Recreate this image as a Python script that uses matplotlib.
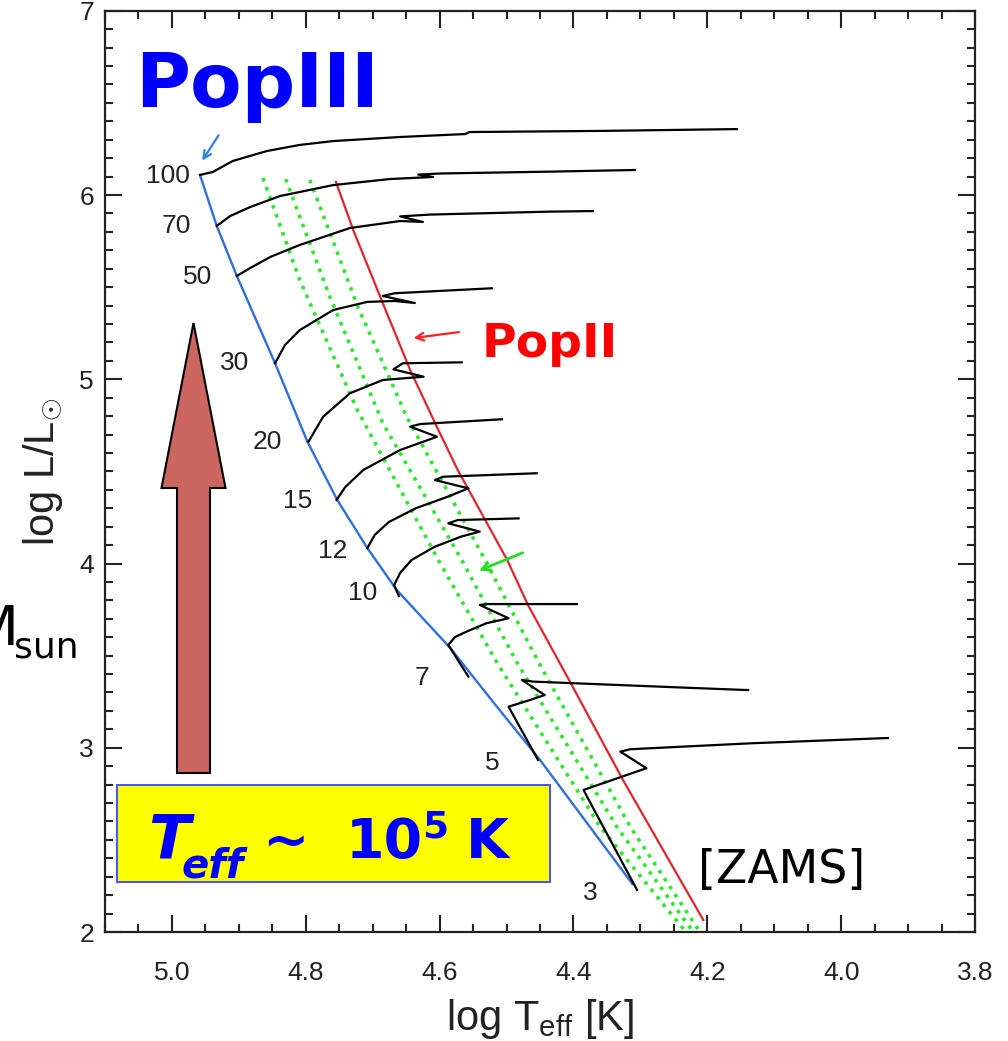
import matplotlib
matplotlib.use("Agg")
import matplotlib.pyplot as plt
from matplotlib.patches import Polygon, Rectangle
from matplotlib.ticker import MultipleLocator, FormatStrFormatter

plt.rcParams['font.family'] = ['Liberation Sans', 'DejaVu Sans']
plt.rcParams['mathtext.fontset'] = 'custom'
plt.rcParams['mathtext.rm'] = 'Liberation Sans'
plt.rcParams['mathtext.it'] = 'Liberation Sans:italic'
plt.rcParams['mathtext.bf'] = 'Liberation Sans:bold'

# PopIII evolutionary tracks, log Teff vs log L/Lsun, one pair per initial mass
logT_100 = [4.958, 4.939, 4.909, 4.858, 4.809, 4.759, 4.659, 4.562, 4.555, 4.360, 4.156]
logL_100 = [6.109, 6.125, 6.185, 6.239, 6.272, 6.293, 6.315, 6.331, 6.342, 6.348, 6.358]
logT_70 = [4.933, 4.913, 4.883, 4.838, 4.759, 4.674, 4.610, 4.632, 4.599, 4.435, 4.308]
logL_70 = [5.832, 5.886, 5.935, 5.995, 6.054, 6.087, 6.098, 6.111, 6.117, 6.127, 6.136]
logT_50 = [4.903, 4.883, 4.853, 4.809, 4.734, 4.659, 4.625, 4.659, 4.614, 4.435, 4.371]
logL_50 = [5.561, 5.604, 5.664, 5.729, 5.821, 5.859, 5.854, 5.884, 5.894, 5.910, 5.913]
logT_30 = [4.846, 4.831, 4.809, 4.759, 4.708, 4.667, 4.637, 4.685, 4.667, 4.522]
logL_30 = [5.087, 5.186, 5.267, 5.376, 5.420, 5.425, 5.414, 5.452, 5.467, 5.494]
logT_20 = [4.796, 4.774, 4.734, 4.685, 4.624, 4.669, 4.655, 4.567]
logL_20 = [4.661, 4.797, 4.924, 4.996, 5.014, 5.054, 5.087, 5.092]
logT_15 = [4.754, 4.741, 4.714, 4.659, 4.604, 4.644, 4.629, 4.507]
logL_15 = [4.345, 4.415, 4.508, 4.616, 4.688, 4.743, 4.757, 4.783]
logT_12 = [4.708, 4.697, 4.676, 4.635, 4.589, 4.557, 4.607, 4.595, 4.455]
logL_12 = [4.084, 4.155, 4.225, 4.301, 4.361, 4.408, 4.453, 4.471, 4.490]
logT_10 = [4.661, 4.668, 4.659, 4.642, 4.608, 4.568, 4.540, 4.587, 4.573, 4.482]
logL_10 = [3.824, 3.883, 3.949, 4.019, 4.090, 4.146, 4.173, 4.218, 4.236, 4.245]
logT_7 = [4.557, 4.587, 4.577, 4.560, 4.530, 4.497, 4.540, 4.527, 4.395]
logL_7 = [3.386, 3.558, 3.601, 3.630, 3.676, 3.703, 3.775, 3.780, 3.780]
logT_5 = [4.453, 4.497, 4.465, 4.443, 4.477, 4.460, 4.211, 4.139]
logL_5 = [2.934, 3.223, 3.259, 3.286, 3.368, 3.359, 3.323, 3.313]
logT_3 = [4.305, 4.385, 4.291, 4.330, 4.315, 4.136, 3.930]
logL_3 = [2.228, 2.771, 2.889, 2.979, 2.992, 3.024, 3.053]

masses = ["100", "70", "50", "30", "20", "15", "12", "10", "7", "5", "3"]
tracks = [(logT_100, logL_100), (logT_70, logL_70), (logT_50, logL_50),
          (logT_30, logL_30), (logT_20, logL_20), (logT_15, logL_15),
          (logT_12, logL_12), (logT_10, logL_10), (logT_7, logL_7),
          (logT_5, logL_5), (logT_3, logL_3)]

# zero-age main sequences
zams3_logT = [4.958, 4.933, 4.903, 4.846, 4.798, 4.753, 4.708, 4.664, 4.584, 4.514, 4.450, 4.312]
zams3_logL = [6.109, 5.832, 5.561, 5.088, 4.665, 4.345, 4.084, 3.856, 3.541, 3.221, 2.934, 2.261]
zams2_logT = [4.755, 4.729, 4.685, 4.644, 4.604, 4.573, 4.499, 4.468, 4.405, 4.326, 4.206]
zams2_logL = [6.072, 5.810, 5.414, 5.050, 4.741, 4.508, 4.019, 3.775, 3.357, 2.825, 2.065]

# dotted green lines
g1_logT = [4.864, 4.809, 4.723, 4.602, 4.514, 4.360, 4.232]
g1_logL = [6.092, 5.539, 4.833, 4.019, 3.460, 2.570, 2.000]
g2_logT = [4.830, 4.764, 4.685, 4.567, 4.484, 4.335, 4.221]
g2_logL = [6.087, 5.447, 4.763, 4.019, 3.460, 2.570, 2.000]
g3_logT = [4.794, 4.722, 4.649, 4.532, 4.450, 4.315, 4.211]
g3_logL = [6.082, 5.392, 4.795, 4.019, 3.449, 2.570, 2.000]

W, H = 1008, 1041


def fx(px):
    return px / W


def fy(py):
    return 1 - py / H


fig = plt.figure(figsize=(W / 100, H / 100), dpi=100)
ax = fig.add_axes([fx(105), fy(932), 870 / W, 921.2 / H])

for g_T, g_L in [(g1_logT, g1_logL), (g2_logT, g2_logL), (g3_logT, g3_logL)]:
    ax.plot(g_T, g_L, ls=':', lw=2.6, color='#2ee82e', zorder=2)
ax.plot(zams2_logT, zams2_logL, color='#e0262b', lw=1.6, zorder=3)
ax.plot(zams3_logT, zams3_logL, color='#2f6fdc', lw=1.7, zorder=3)
for t_T, t_L in tracks:
    ax.plot(t_T, t_L, color='black', lw=1.6, zorder=4)

# mass labels next to the first point of each track
label_dx = [-32, -40, -39, -40, -41, -39, -35, -36, -46, -46, -47]
label_dy = [-1, 0, -1, 0, 0, -1, -3, 3, -1, -3, -3]
for m, (t_T, t_L), dx, dy in zip(masses, tracks, label_dx, label_dy):
    ax.annotate(m, (t_T[0], t_L[0]), xytext=(dx, dy), textcoords='offset pixels',
                ha='center', va='center', fontsize=19, color='#222222')

ax.set_xlim(5.1, 3.8)
ax.set_ylim(2, 7)
ax.xaxis.set_major_locator(MultipleLocator(0.2))
ax.xaxis.set_minor_locator(MultipleLocator(0.05))
ax.yaxis.set_major_locator(MultipleLocator(1))
ax.yaxis.set_minor_locator(MultipleLocator(0.1))
ax.xaxis.set_major_formatter(FormatStrFormatter('%.1f'))
ax.yaxis.set_major_formatter(FormatStrFormatter('%d'))
ax.tick_params(which='both', direction='in', top=True, right=True, width=1.5,
               colors='#222222', labelsize=19)
ax.tick_params(which='major', length=12)
ax.tick_params(which='minor', length=6)
ax.tick_params(axis='x', pad=21)
ax.tick_params(axis='y', pad=8)
for s in ax.spines.values():
    s.set_linewidth(1.6)
    s.set_color('#222222')

fig.text(fx(540), fy(1030), r'log T$_{\rm eff}$ [K]', ha='center', va='baseline',
         fontsize=30, color='#222222')
fig.text(fx(43), fy(472), r'log L/L$_{\odot}$', ha='center', va='center',
         rotation=90, fontsize=30, color='#222222')

# annotation arrows
ax.annotate('', xy=(4.957, 6.174), xytext=(4.928, 6.337),
            arrowprops=dict(arrowstyle='->', color='#2f7fe0', lw=1.6,
                            mutation_scale=14))
ax.annotate('', xy=(4.643, 5.222), xytext=(4.567, 5.258),
            arrowprops=dict(arrowstyle='->', color='#ff2020', lw=1.6,
                            mutation_scale=14))
ax.annotate('', xy=(4.545, 3.956), xytext=(4.472, 4.064),
            arrowprops=dict(arrowstyle='->', color='#22e022', lw=2.0,
                            mutation_scale=14))

fig.text(fx(257), fy(107), 'PopIII', ha='center', va='baseline', fontsize=54,
         fontweight='bold', color='#0000ff', family='DejaVu Sans')
fig.text(fx(482), fy(357), 'PopII', ha='left', va='baseline', fontsize=34,
         fontweight='bold', color='#ff0000', family='DejaVu Sans')
fig.text(fx(782), fy(883), '[ZAMS]', ha='center', va='baseline', fontsize=33,
         color='black', family='DejaVu Sans')

# big upward arrow
cx, shaft, head = 193.5, 16.5, 32
arrow_px = [(cx - shaft, 773), (cx - shaft, 488), (cx - head, 488), (cx, 323),
            (cx + head, 488), (cx + shaft, 488), (cx + shaft, 773)]
fig.add_artist(Polygon([(fx(a), fy(b)) for a, b in arrow_px], closed=True,
                       transform=fig.transFigure, facecolor='#cc6660',
                       edgecolor='black', lw=1.5, zorder=5))

# yellow box with the temperature note
fig.add_artist(Rectangle((fx(117), fy(882)), (550 - 117) / W, (882 - 785) / H,
                         transform=fig.transFigure, facecolor='#ffff00',
                         edgecolor='#3344ff', lw=1.3, zorder=5))
box_font = dict(family='DejaVu Sans', fontweight='bold', color='#0000ff',
                va='baseline', ha='left', zorder=6)
fig.text(fx(148), fy(858), 'T', fontsize=44, fontstyle='italic', **box_font)
fig.text(fx(182), fy(877), 'eff', fontsize=29, fontstyle='italic', **box_font)
fig.text(fx(262), fy(858), '~', fontsize=40, **box_font)
fig.text(fx(346), fy(858), '10', fontsize=40, **box_font)
fig.text(fx(422), fy(838), '5', fontsize=27, **box_font)
fig.text(fx(466), fy(858), 'K', fontsize=40, **box_font)

# solar-mass note running off the left edge
fig.text(fx(18), fy(645), 'M', ha='right', va='baseline', fontsize=40,
         color='black', family='DejaVu Sans')
fig.text(fx(14), fy(658), 'sun', ha='left', va='baseline', fontsize=26,
         color='black', family='DejaVu Sans')

fig.savefig('out.png', dpi=100)
